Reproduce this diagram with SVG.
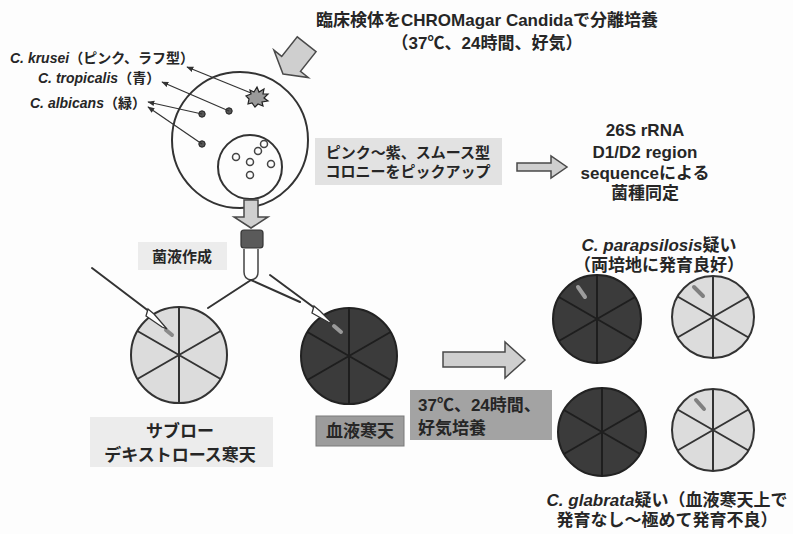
<svg xmlns="http://www.w3.org/2000/svg" width="793" height="534" viewBox="0 0 793 534">
  <defs>
    <style>
      text { font-family: "Liberation Sans", "Noto Sans CJK JP", sans-serif; font-weight: bold; fill: #262626; }
      .it { font-style: italic; }
      .lbl { font-size: 14px; }
      .t15 { font-size: 15px; }
      .t17 { font-size: 17px; }
      .mid { text-anchor: middle; }
      .ptr { stroke: #333; stroke-width: 1.2; fill: none; marker-end: url(#ah); }
      .plate-light { fill: #dcdcdc; stroke: #333; stroke-width: 2; }
      .plate-dark { fill: #3b3b3b; stroke: #222; stroke-width: 2; }
      .sect-light { stroke: #333; stroke-width: 2; fill: none; }
      .sect-dark { stroke: #1e1e1e; stroke-width: 2; fill: none; }
      .block { fill: #cfcfcf; stroke: #4a4a4a; stroke-width: 1.5; stroke-linejoin: miter; }
      .streak { stroke-width: 4; stroke-linecap: round; }
    </style>
    <marker id="ah" viewBox="0 0 10 10" refX="9" refY="5" markerWidth="7" markerHeight="7" orient="auto-start-reverse" markerUnits="userSpaceOnUse">
      <path d="M0 1 L10 5 L0 9 Z" fill="#333"/>
    </marker>
  </defs>

  <rect width="793" height="534" fill="#fdfdfd"/>

  <!-- heading -->
  <g id="title">
    <text class="t17 mid" x="487" y="26">臨床検体をCHROMagar Candidaで分離培養</text>
    <text class="t17 mid" x="487" y="49">（37℃、24時間、好気）</text>
  </g>

  <!-- inoculation arrow into the chromogenic plate -->
  <g id="inlet-arrow" transform="translate(283,74) rotate(128.5)">
    <path class="block" d="M0 0 L-13 -22 L-13 -12 L-38 -12 L-38 12 L-13 12 L-13 22 Z"/>
  </g>

  <!-- CHROMagar plate with colonies -->
  <g id="chromagar-plate">
    <circle cx="240" cy="140" r="68" fill="none" stroke="#333" stroke-width="2"/>
    <circle cx="250" cy="167" r="32" fill="none" stroke="#333" stroke-width="2"/>
    <g fill="#555" stroke="#222" stroke-width="1">
      <circle cx="229" cy="111" r="3.2"/>
      <circle cx="202" cy="114" r="3.2"/>
      <circle cx="202" cy="144" r="3.2"/>
    </g>
    <g fill="none" stroke="#444" stroke-width="1.5">
      <circle cx="264" cy="144" r="3.5"/>
      <circle cx="258" cy="151" r="3.5"/>
      <circle cx="236" cy="157" r="3.5"/>
      <circle cx="271" cy="164" r="3.5"/>
      <circle cx="250" cy="162" r="3.5"/>
      <circle cx="250" cy="175" r="3.5"/>
    </g>
    <!-- rough colony -->
    <polygon fill="#9a9a9a" stroke="#222" stroke-width="1.2" points="257,87 259,92 264,89 263,94 268,94 264,98 268,101 262,102 263,106 258,104 255,107 252,103 248,104 249,99 246,96 251,94 250,90 254,92"/>
  </g>

  <!-- species labels -->
  <g id="label-krusei">
    <text class="lbl" x="10" y="63"><tspan class="it">C. krusei</tspan>（ピンク、ラフ型）</text>
  </g>
  <g id="label-tropicalis">
    <text class="lbl" x="38" y="83"><tspan class="it">C. tropicalis</tspan>（青）</text>
  </g>
  <g id="label-albicans">
    <text class="lbl" x="30" y="108"><tspan class="it">C. albicans</tspan>（緑）</text>
  </g>

  <!-- pick-up step -->
  <g id="pickup">
    <rect x="315" y="138" width="187" height="47" fill="#e2e2e2"/>
    <text class="t15 mid" x="408" y="158">ピンク〜紫、スムース型</text>
    <text class="t15 mid" x="408" y="177">コロニーをピックアップ</text>
  </g>

  <g id="identification">
    <text class="t17 mid" x="645" y="136">26S rRNA</text>
    <text class="t17 mid" x="645" y="158">D1/D2 region</text>
    <text class="t17 mid" x="645" y="179">sequenceによる</text>
    <text class="t17 mid" x="645" y="199">菌種同定</text>
  </g>

  <!-- suspension tube -->
  <g id="tube">
    <path d="M244 249 V272 Q244 279 251 280 Q258 279 258 272 V249" fill="#fff" stroke="#444" stroke-width="1.5"/>
    <rect x="241" y="230" width="22" height="18" rx="3" fill="#5a5a5a" stroke="#333" stroke-width="1.2"/>
  </g>

  <g id="suspension-label">
    <rect x="138" y="242" width="89" height="28" fill="#ececec"/>
    <text class="t15 mid" x="182" y="262">菌液作成</text>
  </g>

  <!-- agar plates -->
  <g id="plate-sabouraud">
    <circle class="plate-light" cx="179" cy="355" r="48"/>
    <path class="sect-light" d="M179 307 V403 M137.4 331 L220.6 379 M137.4 379 L220.6 331"/>
    <line class="streak" x1="166" y1="330" x2="172" y2="335" stroke="#8a8a8a"/>
  </g>
  <g id="label-sabouraud">
    <rect x="90" y="417" width="183" height="50" fill="#ececec"/>
    <text class="t17 mid" x="180" y="437">サブロー</text>
    <text class="t17 mid" x="180" y="461">デキストロース寒天</text>
  </g>

  <g id="plate-blood">
    <circle class="plate-dark" cx="349" cy="356" r="48"/>
    <path class="sect-dark" d="M349 308 V404 M307.4 332 L390.6 380 M307.4 380 L390.6 332"/>
    <line class="streak" x1="334" y1="326" x2="341" y2="332" stroke="#9a9a9a"/>
  </g>
  <g id="label-blood">
    <rect x="316" y="416" width="88" height="30" fill="#9c9c9c" stroke="#7a7a7a" stroke-width="1"/>
    <text class="t17 mid" x="360" y="437">血液寒天</text>
  </g>

  <g id="incubation">
    <rect x="410" y="390" width="142" height="50" fill="#a3a3a3"/>
    <text class="t17" x="418" y="411">37℃、24時間、</text>
    <text class="t17" x="418" y="434">好気培養</text>
  </g>

  <!-- results -->
  <g id="result-parapsilosis">
    <text class="t17 mid" x="659" y="251"><tspan class="it">C. parapsilosis</tspan>疑い</text>
    <text class="t17 mid" x="659" y="271">（両培地に発育良好）</text>
  </g>
  <g id="plate-blood-a">
    <circle class="plate-dark" cx="597" cy="319" r="44"/>
    <path class="sect-dark" d="M597 275 V363 M558.9 297 L635.1 341 M558.9 341 L635.1 297"/>
    <line class="streak" x1="578" y1="287" x2="585" y2="297" stroke="#9c9c9c"/>
  </g>
  <g id="plate-sabouraud-a">
    <circle class="plate-light" cx="713" cy="317" r="41"/>
    <path class="sect-light" d="M713 276 V358 M677.5 296.5 L748.5 337.5 M677.5 337.5 L748.5 296.5"/>
    <line class="streak" x1="694" y1="287" x2="703" y2="296" stroke="#808080"/>
  </g>
  <g id="plate-blood-b">
    <circle class="plate-dark" cx="602" cy="432" r="44"/>
    <path class="sect-dark" d="M602 388 V476 M563.9 410 L640.1 454 M563.9 454 L640.1 410"/>
  </g>
  <g id="plate-sabouraud-b">
    <circle class="plate-light" cx="713" cy="430" r="41"/>
    <path class="sect-light" d="M713 389 V471 M677.5 409.5 L748.5 450.5 M677.5 450.5 L748.5 409.5"/>
    <line class="streak" x1="696" y1="400" x2="704" y2="409" stroke="#808080"/>
  </g>
  <g id="result-glabrata">
    <text class="t17 mid" x="667" y="506"><tspan class="it">C. glabrata</tspan>疑い（血液寒天上で</text>
    <text class="t17 mid" x="667" y="526">発育なし〜極めて発育不良）</text>
  </g>

  <!-- connectors -->
  <g id="connectors">
    <line class="ptr" x1="251" y1="93" x2="187" y2="67"/>
    <line class="ptr" x1="229" y1="111" x2="162" y2="82"/>
    <line class="ptr" x1="202" y1="114" x2="148" y2="102"/>
    <line class="ptr" x1="202" y1="144" x2="148" y2="107"/>
    <!-- plate to tube -->
    <path class="block" d="M244 200 H258 V217 H268 L251 228 L234 217 H244 Z"/>
    <!-- pick-up to sequencing -->
    <path class="block" d="M517 163 H551 V156 L567 167 L551 178 V171 H517 Z"/>
    <!-- plates to incubation results -->
    <path class="block" d="M443 352 H505 V342 L525 360 L505 378 V367 H443 Z"/>
    <!-- split of the suspension -->
    <g stroke="#333" stroke-width="2" fill="none" stroke-linecap="round">
      <path d="M251 280 L208 308"/>
      <path d="M251 280 L300 302"/>
      <path d="M92 268 L150 312"/>
      <path d="M270 275 L316 309"/>
    </g>
    <!-- pipette tips -->
    <path d="M148 309 L154 314 L167 329 L162 327 L146 316 Z" fill="#fff" stroke="#333" stroke-width="1.3"/>
    <path d="M314 306 L320 311 L333 324 L328 322 L312 313 Z" fill="#fff" stroke="#333" stroke-width="1.3"/>
  </g>
</svg>
